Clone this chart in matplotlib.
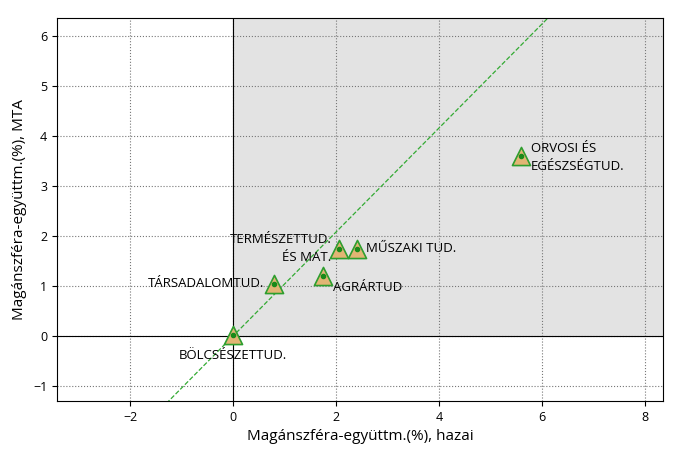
import matplotlib
matplotlib.use("Agg")
import matplotlib.pyplot as plt
import numpy as np

plt.rcParams["font.family"] = ["Open Sans", "DejaVu Sans"]

labels = ["ORVOSI ÉS\nEGÉSZSÉGTUD.", "MŰSZAKI TUD.", "TERMÉSZETTUD.\nÉS MAT.",
          "AGRÁRTUD", "TÁRSADALOMTUD.", "BÖLCSÉSZETTUD."]
x_hazai = [5.6, 2.4, 2.05, 1.75, 0.8, 0.0]
y_mta = [3.6, 1.75, 1.75, 1.2, 1.05, 0.02]
label_offsets = [(7, -1), (7, 0), (-5, 0), (7, -8), (-7, 0), (0, -10)]
label_ha = ["left", "left", "right", "left", "right", "center"]
label_va = ["center", "center", "center", "center", "center", "top"]
diag_slope = 1.04

fig = plt.figure(figsize=(6.83, 4.59), dpi=100)
ax = fig.add_axes([57 / 683, 58 / 459, 606 / 683, 383 / 459])
xmin, xmax, ymin, ymax = -3.42, 8.35, -1.3, 6.36
ax.set_xlim(xmin, xmax)
ax.set_ylim(ymin, ymax)

ax.fill_between([0, xmax], 0, ymax, color="#e3e3e3", zorder=0)
ax.axvline(0, color="black", lw=0.8, zorder=1)
ax.axhline(0, color="black", lw=0.8, zorder=1)
ax.grid(True, color="#777777", ls=":", lw=0.8)
ax.set_axisbelow(True)

xs = np.array([xmin, xmax])
ax.plot(xs, diag_slope * xs, color="#33aa33", ls="--", lw=0.9, zorder=2)

ax.scatter(x_hazai, y_mta, marker="^", s=170, facecolor="#e2b574",
           edgecolor="#2e9e2e", lw=1.2, zorder=3)
ax.scatter(x_hazai, y_mta, marker="o", s=9, color="#1a8a1a", zorder=4)

for lab, xv, yv, off, ha, va in zip(labels, x_hazai, y_mta, label_offsets, label_ha, label_va):
    ax.annotate(lab, (xv, yv), xytext=off, textcoords="offset points",
                ha=ha, va=va, fontsize=9.5, linespacing=1.5, zorder=5)

ax.set_xticks([-2, 0, 2, 4, 6, 8])
ax.set_yticks([-1, 0, 1, 2, 3, 4, 5, 6])
ax.tick_params(labelsize=9)
ax.set_xlabel("Magánszféra-együttm.(%), hazai", fontsize=11)
ax.set_ylabel("Magánszféra-együttm.(%), MTA", fontsize=11)

fig.savefig("out.png", dpi=100)
